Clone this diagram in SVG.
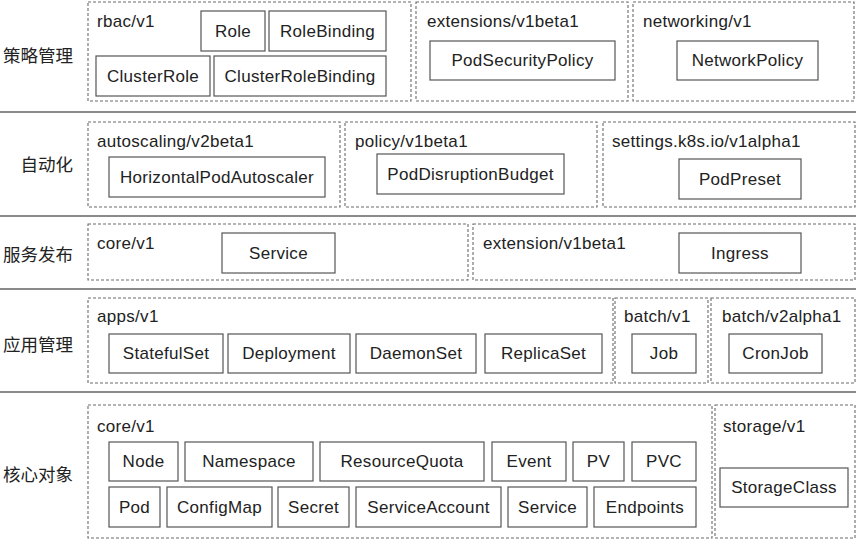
<svg xmlns="http://www.w3.org/2000/svg" width="856" height="540" viewBox="0 0 856 540">
  <style>
    .sep { stroke: #8a8a8a; stroke-width: 1.8; fill: none; }
    .grp { fill: none; stroke: #6a6a6a; stroke-width: 1.1; stroke-dasharray: 3 2; }
    .box { fill: #fff; stroke: #555; stroke-width: 1.2; }
    .lbl { font-family: "Liberation Sans", Arial, sans-serif; font-size: 17px; letter-spacing: 0.3px; fill: #222; }
    .name { font-family: "Liberation Sans", Arial, sans-serif; font-size: 17px; letter-spacing: 0.3px; fill: #222; text-anchor: middle; dominant-baseline: central; }
    .cat { font-family: "Noto Sans CJK SC", "Noto Sans", sans-serif; font-size: 17.5px; fill: #222; text-anchor: end; dominant-baseline: central; }
  </style>
  <rect width="856" height="540" fill="#fff"/>

  <!-- layer separators -->
  <g id="separators">
    <line class="sep" x1="0" y1="112" x2="856" y2="112"/>
    <line class="sep" x1="0" y1="216" x2="856" y2="216"/>
    <line class="sep" x1="0" y1="289" x2="856" y2="289"/>
    <line class="sep" x1="0" y1="392" x2="856" y2="392"/>
  </g>

  <!-- layer titles -->
  <g id="categories">
    <text class="cat" x="73" y="54">策略管理</text>
    <text class="cat" x="73" y="163">自动化</text>
    <text class="cat" x="73" y="253">服务发布</text>
    <text class="cat" x="73" y="343">应用管理</text>
    <text class="cat" x="73" y="473">核心对象</text>
  </g>

  <!-- policy management -->
  <g id="rbac">
    <rect class="grp" x="88" y="2" width="323" height="99"/>
    <text class="lbl" x="97" y="27">rbac/v1</text>
    <g id="role"><rect class="box" x="201" y="11" width="64" height="40"/><text class="name" x="233" y="31">Role</text></g>
    <g id="rolebinding"><rect class="box" x="269" y="11" width="117" height="40"/><text class="name" x="327.5" y="31">RoleBinding</text></g>
    <g id="clusterrole"><rect class="box" x="96" y="56" width="114" height="40"/><text class="name" x="153" y="76">ClusterRole</text></g>
    <g id="clusterrolebinding"><rect class="box" x="214" y="56" width="172" height="40"/><text class="name" x="300" y="76">ClusterRoleBinding</text></g>
  </g>
  <g id="extensions">
    <rect class="grp" x="416" y="2" width="212" height="99"/>
    <text class="lbl" x="427" y="27">extensions/v1beta1</text>
    <g id="podsecuritypolicy"><rect class="box" x="430" y="41" width="185" height="39"/><text class="name" x="522.5" y="60.5">PodSecurityPolicy</text></g>
  </g>
  <g id="networking">
    <rect class="grp" x="633" y="2" width="221" height="99"/>
    <text class="lbl" x="643" y="27">networking/v1</text>
    <g id="networkpolicy"><rect class="box" x="677" y="41" width="141" height="39"/><text class="name" x="747.5" y="60.5">NetworkPolicy</text></g>
  </g>

  <!-- automation -->
  <g id="autoscaling">
    <rect class="grp" x="88" y="122" width="252" height="85"/>
    <text class="lbl" x="97" y="147">autoscaling/v2beta1</text>
    <g id="hpa"><rect class="box" x="109" y="157" width="216" height="40"/><text class="name" x="217" y="177">HorizontalPodAutoscaler</text></g>
  </g>
  <g id="policy">
    <rect class="grp" x="345" y="122" width="252" height="85"/>
    <text class="lbl" x="355" y="147">policy/v1beta1</text>
    <g id="pdb"><rect class="box" x="377" y="154" width="187" height="40"/><text class="name" x="470.5" y="174">PodDisruptionBudget</text></g>
  </g>
  <g id="settings">
    <rect class="grp" x="603" y="122" width="252" height="85"/>
    <text class="lbl" x="612" y="147">settings.k8s.io/v1alpha1</text>
    <g id="podpreset"><rect class="box" x="679" y="159" width="122" height="40"/><text class="name" x="740" y="179">PodPreset</text></g>
  </g>

  <!-- service exposure -->
  <g id="core-service">
    <rect class="grp" x="88" y="224" width="380" height="56"/>
    <text class="lbl" x="97" y="249">core/v1</text>
    <g id="service-exposed"><rect class="box" x="222" y="233" width="113" height="40"/><text class="name" x="278.5" y="253">Service</text></g>
  </g>
  <g id="extension">
    <rect class="grp" x="473" y="224" width="382" height="56"/>
    <text class="lbl" x="483" y="249">extension/v1beta1</text>
    <g id="ingress"><rect class="box" x="679" y="233" width="122" height="40"/><text class="name" x="740" y="253">Ingress</text></g>
  </g>

  <!-- application management -->
  <g id="apps">
    <rect class="grp" x="88" y="298" width="525" height="85"/>
    <text class="lbl" x="97" y="322">apps/v1</text>
    <g id="statefulset"><rect class="box" x="109" y="334" width="114" height="39"/><text class="name" x="166" y="353.5">StatefulSet</text></g>
    <g id="deployment"><rect class="box" x="228" y="334" width="122" height="39"/><text class="name" x="289" y="353.5">Deployment</text></g>
    <g id="daemonset"><rect class="box" x="356" y="334" width="120" height="39"/><text class="name" x="416" y="353.5">DaemonSet</text></g>
    <g id="replicaset"><rect class="box" x="485" y="334" width="117" height="39"/><text class="name" x="543.5" y="353.5">ReplicaSet</text></g>
  </g>
  <g id="batch-v1">
    <rect class="grp" x="615" y="298" width="93" height="85"/>
    <text class="lbl" x="624" y="322">batch/v1</text>
    <g id="job"><rect class="box" x="632" y="334" width="64" height="39"/><text class="name" x="664" y="353.5">Job</text></g>
  </g>
  <g id="batch-v2alpha1">
    <rect class="grp" x="711" y="298" width="144" height="85"/>
    <text class="lbl" x="722" y="322">batch/v2alpha1</text>
    <g id="cronjob"><rect class="box" x="729" y="334" width="93" height="39"/><text class="name" x="775.5" y="353.5">CronJob</text></g>
  </g>

  <!-- core objects -->
  <g id="core">
    <rect class="grp" x="88" y="405" width="624" height="133"/>
    <text class="lbl" x="97" y="432">core/v1</text>
    <g id="node"><rect class="box" x="109" y="442" width="69" height="39"/><text class="name" x="143.5" y="461.5">Node</text></g>
    <g id="namespace"><rect class="box" x="185" y="442" width="128" height="39"/><text class="name" x="249" y="461.5">Namespace</text></g>
    <g id="resourcequota"><rect class="box" x="320" y="442" width="164" height="39"/><text class="name" x="402" y="461.5">ResourceQuota</text></g>
    <g id="event"><rect class="box" x="492" y="442" width="74" height="39"/><text class="name" x="529" y="461.5">Event</text></g>
    <g id="pv"><rect class="box" x="573" y="442" width="51" height="39"/><text class="name" x="598.5" y="461.5">PV</text></g>
    <g id="pvc"><rect class="box" x="632" y="442" width="64" height="39"/><text class="name" x="664" y="461.5">PVC</text></g>
    <g id="pod"><rect class="box" x="109" y="487" width="51" height="40"/><text class="name" x="134.5" y="507">Pod</text></g>
    <g id="configmap"><rect class="box" x="167" y="487" width="105" height="40"/><text class="name" x="219.5" y="507">ConfigMap</text></g>
    <g id="secret"><rect class="box" x="278" y="487" width="71" height="40"/><text class="name" x="313.5" y="507">Secret</text></g>
    <g id="serviceaccount"><rect class="box" x="356" y="487" width="145" height="40"/><text class="name" x="428.5" y="507">ServiceAccount</text></g>
    <g id="service"><rect class="box" x="508" y="487" width="79" height="40"/><text class="name" x="547.5" y="507">Service</text></g>
    <g id="endpoints"><rect class="box" x="594" y="487" width="102" height="40"/><text class="name" x="645" y="507">Endpoints</text></g>
  </g>
  <g id="storage">
    <rect class="grp" x="715" y="405" width="140" height="133"/>
    <text class="lbl" x="723" y="432">storage/v1</text>
    <g id="storageclass"><rect class="box" x="720" y="468" width="128" height="39"/><text class="name" x="784" y="487.5">StorageClass</text></g>
  </g>

  <!-- no connectors in this layered view -->
  <g id="connectors"/>
</svg>
